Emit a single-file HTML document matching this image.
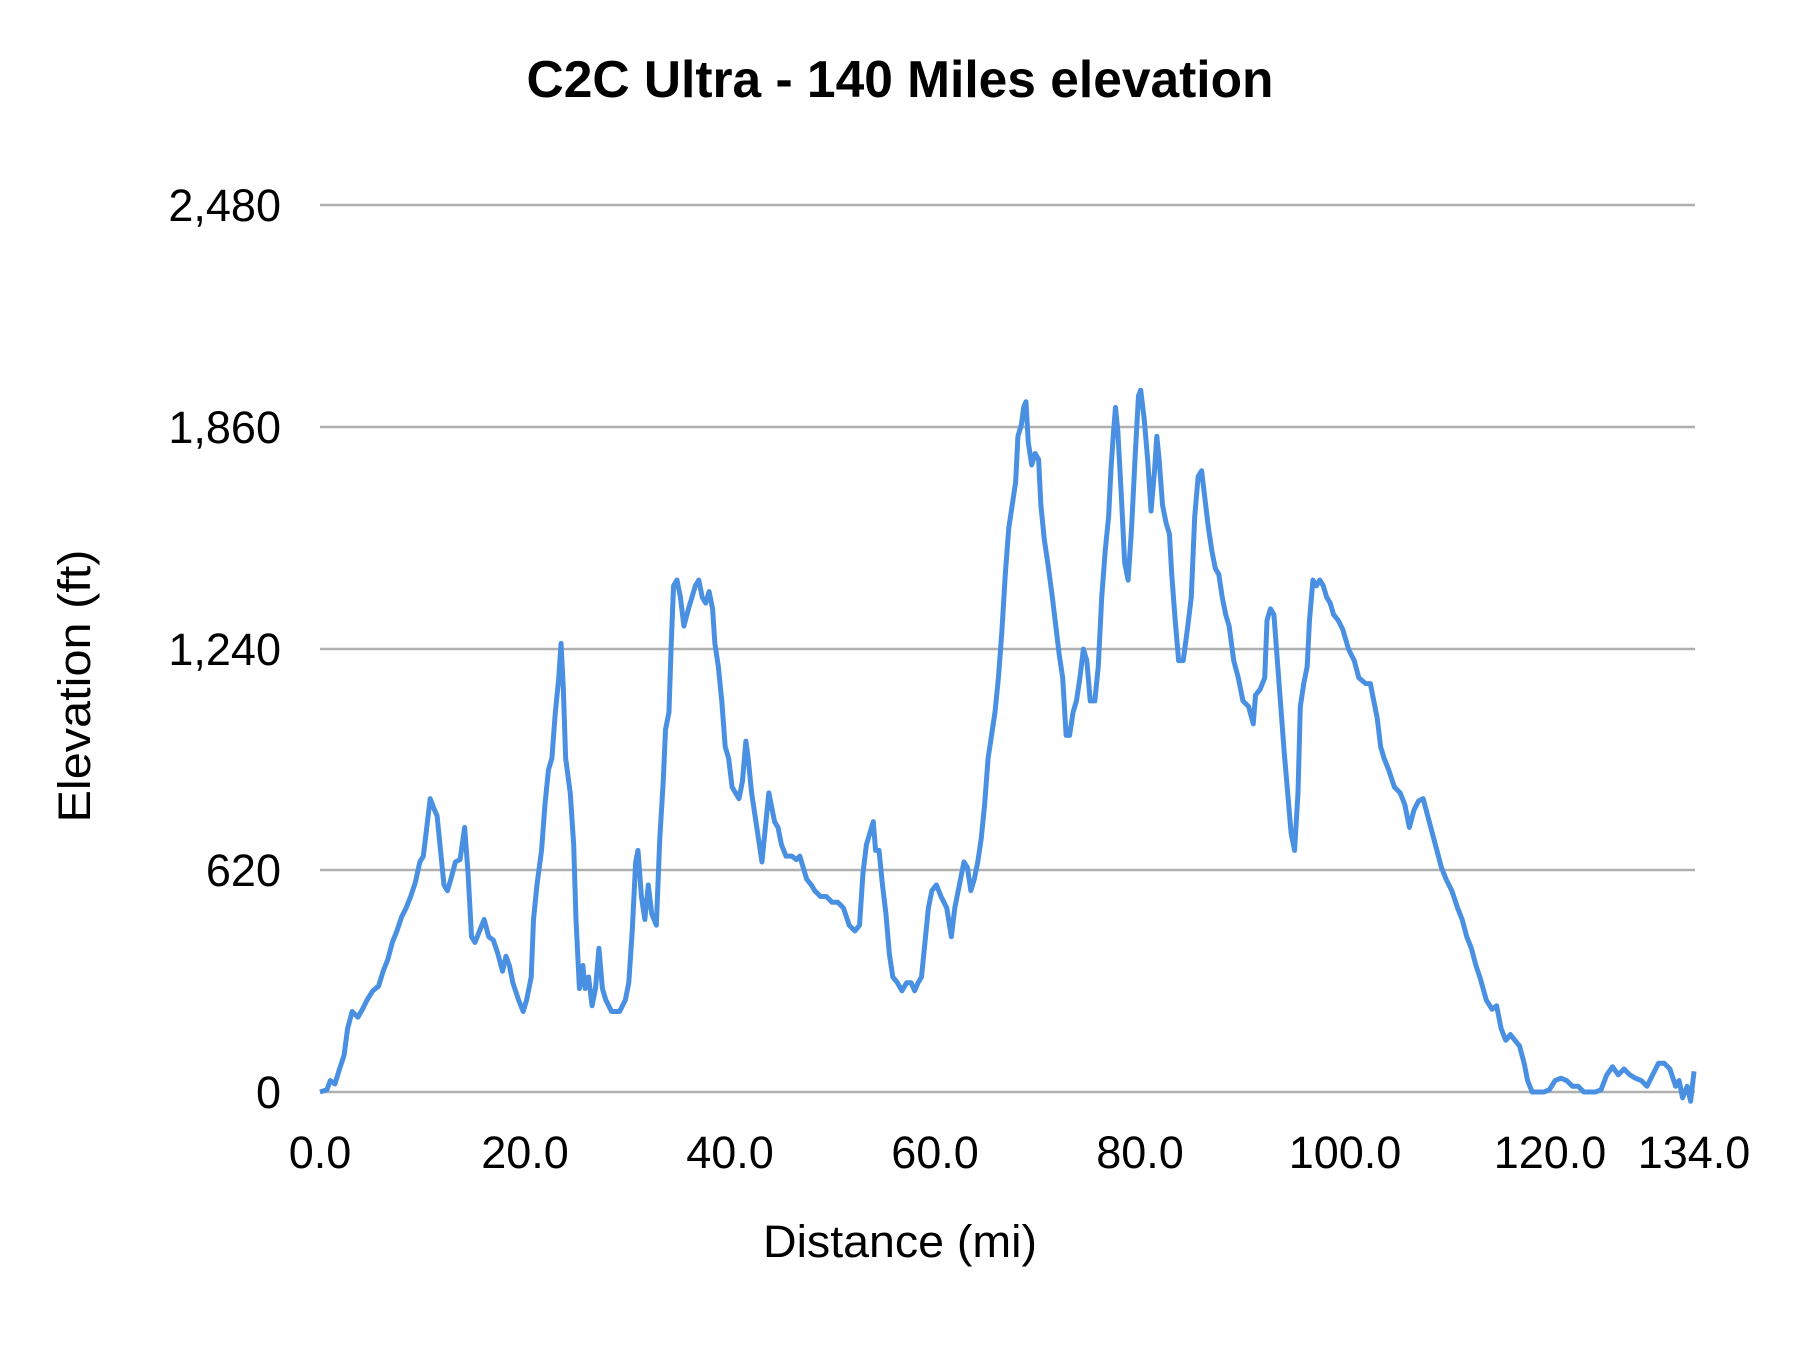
<!DOCTYPE html>
<html><head><meta charset="utf-8"><style>
html,body{margin:0;padding:0;background:#fff;}
svg{display:block;}
text{font-family:"Liberation Sans",sans-serif;fill:#000;}
</style></head><body>
<svg width="1800" height="1350" viewBox="0 0 1800 1350" xmlns="http://www.w3.org/2000/svg">
<rect width="1800" height="1350" fill="#fff"/>
<text x="900" y="97" font-size="52" font-weight="bold" text-anchor="middle" textLength="747" lengthAdjust="spacingAndGlyphs">C2C Ultra - 140 Miles elevation</text>
<g stroke="#b0b0b0" stroke-width="2.5">
<line x1="320" y1="205" x2="1695" y2="205"/>
<line x1="320" y1="427" x2="1695" y2="427"/>
<line x1="320" y1="649" x2="1695" y2="649"/>
<line x1="320" y1="870" x2="1695" y2="870"/>
<line x1="320" y1="1092" x2="1695" y2="1092"/>
</g>
<g font-size="45" text-anchor="end">
<text x="281" y="221">2,480</text>
<text x="281" y="443">1,860</text>
<text x="281" y="665">1,240</text>
<text x="281" y="886">620</text>
<text x="281" y="1108">0</text>
</g>
<g font-size="45" text-anchor="middle">
<text x="320" y="1168">0.0</text>
<text x="525" y="1168">20.0</text>
<text x="730" y="1168">40.0</text>
<text x="935" y="1168">60.0</text>
<text x="1140" y="1168">80.0</text>
<text x="1345" y="1168">100.0</text>
<text x="1550" y="1168">120.0</text>
<text x="1694" y="1168">134.0</text>
</g>
<text x="900" y="1257" font-size="45" text-anchor="middle" textLength="274" lengthAdjust="spacingAndGlyphs">Distance (mi)</text>
<text transform="translate(90,686) rotate(-90)" font-size="45" text-anchor="middle" textLength="273" lengthAdjust="spacingAndGlyphs">Elevation (ft)</text>
<g transform="translate(320,205) scale(1.1479,1.1505) translate(-279,-179)">
<polyline fill="none" stroke="#4a90e2" stroke-width="5" vector-effect="non-scaling-stroke" stroke-linejoin="round" points="279,950 285,948 288,940 292,943 296,930 300,918 303,895 307,880 312,885 316,878 320,870 325,862 330,858 334,845 338,835 342,820 346,810 350,798 354,790 358,780 362,768 366,750 369,745 372,720 375,695 378,703 381,710 384,740 387,770 390,775 393,765 397,750 401,748 405,720 408,760 411,815 414,820 418,810 422,800 426,815 430,818 434,830 438,845 441,832 444,840 447,855 452,870 456,880 459,870 463,850 465,800 468,770 472,740 475,700 478,670 481,660 484,620 487,590 489,560 491,600 493,660 497,690 500,735 502,800 505,860 508,840 510,860 513,850 516,875 519,860 522,825 525,860 528,870 533,880 540,880 545,870 548,855 551,810 554,750 556,740 559,780 562,800 565,770 568,795 572,805 575,730 578,680 580,635 583,620 585,560 587,510 590,505 593,520 596,545 600,530 603,520 606,510 609,505 612,520 615,525 618,515 621,530 623,560 626,580 629,610 632,650 635,660 638,685 641,690 644,695 647,680 650,645 652,660 655,690 658,710 661,730 664,750 667,720 670,690 672,700 675,715 678,720 681,735 685,745 690,745 694,748 697,745 700,755 703,765 707,770 710,775 715,780 720,780 725,785 730,785 735,790 740,805 745,810 749,805 752,760 755,735 758,725 761,715 763,740 766,740 769,770 772,795 775,830 778,850 782,855 786,862 790,855 794,855 797,862 800,855 803,850 806,820 809,790 812,775 816,770 820,780 825,790 829,815 832,790 836,770 840,750 843,755 846,775 849,765 852,750 855,730 858,700 861,660 864,640 867,620 870,590 873,550 876,500 879,460 882,440 885,420 887,380 890,370 892,355 894,350 896,385 899,405 902,395 905,400 907,440 910,470 913,490 917,520 920,545 923,570 926,590 929,640 932,640 935,620 938,610 941,590 944,565 947,575 950,610 954,610 957,580 960,520 963,480 966,450 968,410 970,380 972,355 974,375 977,430 980,490 983,505 986,460 989,400 992,345 994,340 997,365 1000,400 1003,445 1006,410 1008,380 1010,400 1013,440 1016,455 1019,465 1021,500 1024,540 1027,575 1031,575 1035,545 1038,520 1041,450 1044,415 1047,410 1050,435 1053,460 1056,480 1059,495 1062,500 1065,520 1068,535 1071,545 1075,575 1079,590 1083,610 1088,615 1092,630 1094,605 1098,600 1102,590 1104,540 1107,530 1110,535 1113,575 1116,615 1119,655 1122,690 1125,725 1128,740 1131,690 1133,615 1136,595 1139,580 1141,540 1144,505 1147,510 1150,505 1153,510 1156,520 1159,525 1162,535 1166,540 1170,548 1175,565 1180,575 1184,590 1190,595 1194,595 1197,610 1200,625 1203,650 1206,660 1210,670 1215,685 1220,690 1224,700 1228,720 1232,705 1236,697 1240,695 1244,710 1248,725 1252,740 1256,755 1260,765 1265,775 1270,790 1274,800 1278,815 1282,825 1286,840 1290,852 1295,870 1300,878 1304,875 1308,895 1312,905 1316,900 1320,905 1324,910 1328,925 1331,940 1335,950 1340,950 1345,950 1350,948 1355,940 1360,938 1365,940 1370,945 1375,945 1380,950 1390,950 1395,948 1400,935 1405,928 1410,935 1415,930 1420,935 1425,938 1430,940 1435,945 1440,935 1445,925 1450,925 1455,930 1460,945 1463,940 1466,955 1470,945 1473,958 1476,932"/>
</g>
</svg>
</body></html>
